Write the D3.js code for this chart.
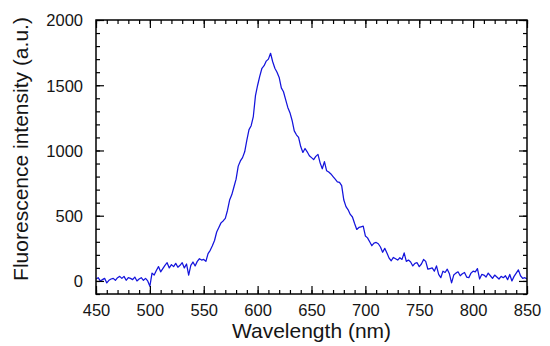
<!DOCTYPE html>
<html>
<head>
<meta charset="utf-8">
<script src="https://cdn.jsdelivr.net/npm/d3@7"></script>
<style>
  html, body { margin: 0; padding: 0; background: #fff; }
  svg { display: block; }
</style>
</head>
<body>
<svg id="chart" width="550" height="346"></svg>
<script>
// ---- data ----
const wavelengthStart = 450;
const wavelengthStep = 2;
const intensity = [
  15, 25, 0, 10, 20, -15, 5, 15, 20, 5,
  25, 35, 20, 35, 5, 25, 20, 10, 30, 0,
  15, 25, 5, 20, 0, -40, 60, 45, 80, 110,
  70, 95, 120, 140, 100, 125, 110, 135, 105, 120,
  140, 100, 130, 45, 120, 145, 115, 150, 170, 160,
  165, 150, 210, 235, 270, 310, 375, 410, 445, 460,
  480, 540, 620, 660, 720, 780, 880, 920, 945, 990,
  1080, 1160, 1190, 1260, 1420, 1500, 1570, 1630, 1650, 1685,
  1700, 1745, 1680, 1630, 1600, 1560, 1480, 1450, 1390, 1330,
  1290, 1230, 1150, 1120, 1100, 1030, 985, 1015, 990, 960,
  945, 930, 955, 970, 905, 860, 915, 845, 835, 820,
  800, 780, 760, 755, 730, 620, 570, 545, 510, 490,
  440, 395, 410, 415, 420, 345, 330, 300, 270, 290,
  295, 285, 260, 220, 250, 215, 175, 155, 180, 170,
  160, 178, 165, 215, 150, 160, 145, 115, 135, 140,
  110, 130, 165, 150, 90, 95, 100, 75, 115, 50,
  25, 75, 65, 90, 55, -15, 45, 60, 70, 40,
  55, 65, 30, 25, 60, 75, 70, 95, 15, 50,
  45, 30, 60, 40, 20, 45, 30, 15, 35, 25,
  40, 10, 50, 0, 35, 60, 85, 40, 20, 25,
  15
];
const xTicks = [450, 500, 550, 600, 650, 700, 750, 800, 850];
const yTicks = [0, 500, 1000, 1500, 2000];
const xMinorTicks = d3.range(450, 851, 10);
const yMinorTicks = d3.range(-100, 2001, 100);
const xTitle = "Wavelength (nm)";
const yTitle = "Fluorescence intensity (a.u.)";

const data = intensity.map((v, i) => ({ x: wavelengthStart + i * wavelengthStep, y: v }));

// ---- layout ----
const svg = d3.select("#chart");
const L = 96, R = 527, T = 20, B = 294;
const x = d3.scaleLinear().domain([450, 850]).range([L, R]);
const y = d3.scaleLinear().domain([-100, 2000]).range([B, T]);

const font = "'Liberation Sans', Arial, sans-serif";
const textColor = "#151515";

svg.append("defs").append("clipPath").attr("id", "clip")
  .append("rect").attr("x", L).attr("y", T).attr("width", R - L).attr("height", B - T);

// line
svg.append("path")
  .datum(data)
  .attr("clip-path", "url(#clip)")
  .attr("fill", "none")
  .attr("stroke", "#1414dc")
  .attr("stroke-width", 1.25)
  .attr("stroke-linejoin", "round")
  .attr("d", d3.line().x(d => x(d.x)).y(d => y(d.y)));

// axes helper: inward ticks
function addAxis(gen, transform, minorVals, majorVals, showLabels) {
  const gMinor = svg.append("g").attr("transform", transform)
    .call(gen.scale().copy ? gen.tickValues(minorVals).tickSize(4).tickFormat("") : gen);
  gMinor.select(".domain").remove();
  gMinor.selectAll("line").attr("stroke", "#000");
  return gMinor;
}

// bottom
const bMinor = svg.append("g").attr("transform", `translate(0,${B})`)
  .call(d3.axisTop(x).tickValues(xMinorTicks).tickSize(4).tickFormat(""));
bMinor.select(".domain").remove();
const bMajor = svg.append("g").attr("transform", `translate(0,${B})`)
  .call(d3.axisTop(x).tickValues(xTicks).tickSize(8).tickFormat(""));
bMajor.select(".domain").remove();
// top
const tMinor = svg.append("g").attr("transform", `translate(0,${T})`)
  .call(d3.axisBottom(x).tickValues(xMinorTicks).tickSize(4).tickFormat(""));
tMinor.select(".domain").remove();
const tMajor = svg.append("g").attr("transform", `translate(0,${T})`)
  .call(d3.axisBottom(x).tickValues(xTicks).tickSize(8).tickFormat(""));
tMajor.select(".domain").remove();
// left
const lMinor = svg.append("g").attr("transform", `translate(${L},0)`)
  .call(d3.axisRight(y).tickValues(yMinorTicks).tickSize(4).tickFormat(""));
lMinor.select(".domain").remove();
const lMajor = svg.append("g").attr("transform", `translate(${L},0)`)
  .call(d3.axisRight(y).tickValues(yTicks).tickSize(8).tickFormat(""));
lMajor.select(".domain").remove();
// right
const rMinor = svg.append("g").attr("transform", `translate(${R},0)`)
  .call(d3.axisLeft(y).tickValues(yMinorTicks).tickSize(4).tickFormat(""));
rMinor.select(".domain").remove();
const rMajor = svg.append("g").attr("transform", `translate(${R},0)`)
  .call(d3.axisLeft(y).tickValues(yTicks).tickSize(8).tickFormat(""));
rMajor.select(".domain").remove();

svg.selectAll(".tick line").attr("stroke", "#000").attr("stroke-width", 1.2);

// frame
svg.append("rect").attr("x", L).attr("y", T).attr("width", R - L).attr("height", B - T)
  .attr("fill", "none").attr("stroke", "#000").attr("stroke-width", 1.5);

// tick labels
const xl = svg.append("g").attr("transform", `translate(0,${B})`)
  .call(d3.axisBottom(x).tickValues(xTicks).tickSize(0).tickPadding(0).tickFormat(d3.format("d")));
xl.select(".domain").remove();
xl.selectAll("text").attr("y", 21.5).attr("dy", 0)
  .attr("font-family", font).attr("font-size", 16.5).attr("fill", textColor);

const yl = svg.append("g").attr("transform", `translate(${L},0)`)
  .call(d3.axisLeft(y).tickValues(yTicks).tickSize(0).tickPadding(0).tickFormat(d3.format("d")));
yl.select(".domain").remove();
yl.selectAll("text").attr("x", -13).attr("dy", "0.36em")
  .attr("font-family", font).attr("font-size", 16.5).attr("fill", textColor);

// titles
svg.append("text").attr("x", (L + R) / 2).attr("y", 338)
  .attr("text-anchor", "middle").attr("font-family", font).attr("font-size", 21)
  .attr("fill", textColor).text(xTitle);
svg.append("text").attr("transform", `translate(28,149) rotate(-90)`)
  .attr("text-anchor", "middle").attr("font-family", font).attr("font-size", 21)
  .attr("fill", textColor).text(yTitle);
</script>
</body>
</html>
